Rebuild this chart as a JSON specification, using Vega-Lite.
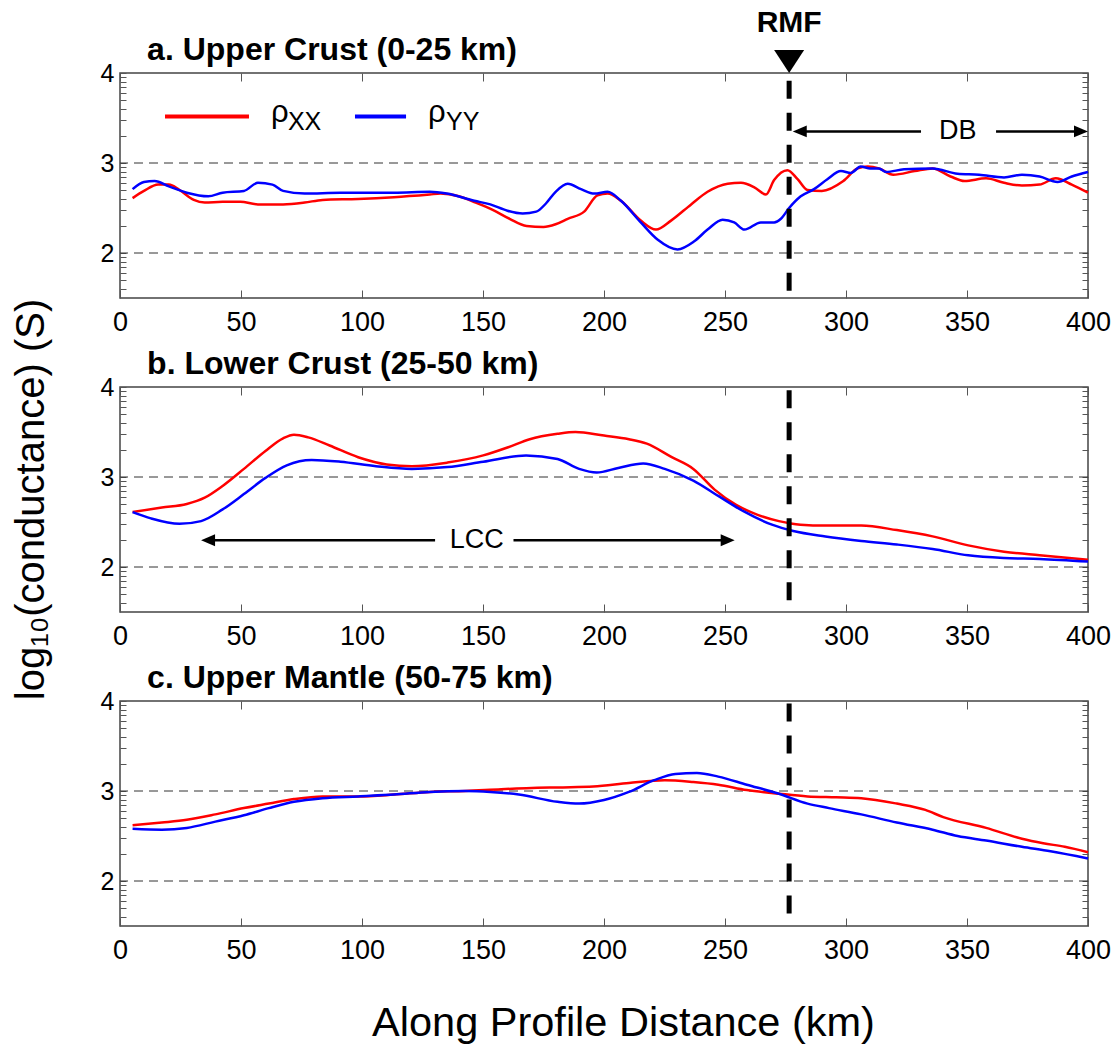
{
  "$schema": "https://vega.github.io/schema/vega-lite/v6.json",
  "padding": {"left": 10, "top": 6, "right": 5, "bottom": 2},
  "spacing": 89,
  "bounds": "flush",
  "config": {
    "font": "Liberation Sans",
    "view": {"stroke": "#444", "strokeWidth": 1.5},
    "axis": {"grid": false, "domain": false, "tickColor": "#555", "tickWidth": 1, "labelFont": "Liberation Sans", "labelColor": "black", "titleFont": "Liberation Sans", "titleColor": "black", "titleFontWeight": "normal", "labelOverlap": false, "labelBound": false, "labelFlush": false},
    "text": {"font": "Liberation Sans", "color": "black"}
  },
  "datasets": {
    "a": [
      {"d":5.2,"s":"ρXX","v":2.61},{"d":9.9,"s":"ρXX","v":2.69},{"d":15.8,"s":"ρXX","v":2.76},{"d":20.2,"s":"ρXX","v":2.76},{"d":24.6,"s":"ρXX","v":2.70},{"d":30.5,"s":"ρXX","v":2.59},{"d":35,"s":"ρXX","v":2.56},{"d":42.4,"s":"ρXX","v":2.57},{"d":49.7,"s":"ρXX","v":2.57},{"d":57,"s":"ρXX","v":2.54},{"d":67.4,"s":"ρXX","v":2.54},{"d":76.3,"s":"ρXX","v":2.56},{"d":83.7,"s":"ρXX","v":2.59},{"d":98.4,"s":"ρXX","v":2.60},{"d":113.2,"s":"ρXX","v":2.62},{"d":128,"s":"ρXX","v":2.65},{"d":132.4,"s":"ρXX","v":2.66},{"d":140,"s":"ρXX","v":2.63},{"d":147,"s":"ρXX","v":2.56},{"d":154,"s":"ρXX","v":2.48},{"d":161,"s":"ρXX","v":2.38},{"d":168,"s":"ρXX","v":2.30},{"d":175,"s":"ρXX","v":2.29},{"d":180,"s":"ρXX","v":2.32},{"d":185,"s":"ρXX","v":2.38},{"d":191.8,"s":"ρXX","v":2.46},{"d":197.3,"s":"ρXX","v":2.64},{"d":201.5,"s":"ρXX","v":2.66},{"d":207,"s":"ρXX","v":2.58},{"d":215.2,"s":"ρXX","v":2.36},{"d":221.5,"s":"ρXX","v":2.26},{"d":227.7,"s":"ρXX","v":2.36},{"d":236,"s":"ρXX","v":2.54},{"d":242.8,"s":"ρXX","v":2.68},{"d":251.1,"s":"ρXX","v":2.77},{"d":256.6,"s":"ρXX","v":2.78},{"d":262.1,"s":"ρXX","v":2.73},{"d":266.9,"s":"ρXX","v":2.65},{"d":270.3,"s":"ρXX","v":2.81},{"d":275.8,"s":"ρXX","v":2.92},{"d":280,"s":"ρXX","v":2.82},{"d":284.1,"s":"ρXX","v":2.70},{"d":290,"s":"ρXX","v":2.69},{"d":298.9,"s":"ρXX","v":2.80},{"d":304.8,"s":"ρXX","v":2.94},{"d":309,"s":"ρXX","v":2.96},{"d":313.6,"s":"ρXX","v":2.94},{"d":319.5,"s":"ρXX","v":2.87},{"d":328.4,"s":"ρXX","v":2.91},{"d":335.8,"s":"ρXX","v":2.94},{"d":343.2,"s":"ρXX","v":2.85},{"d":349,"s":"ρXX","v":2.80},{"d":357.9,"s":"ρXX","v":2.83},{"d":365.3,"s":"ρXX","v":2.78},{"d":372.7,"s":"ρXX","v":2.75},{"d":380,"s":"ρXX","v":2.76},{"d":386.7,"s":"ρXX","v":2.83},{"d":393.3,"s":"ρXX","v":2.76},{"d":400,"s":"ρXX","v":2.67},
      {"d":5.2,"s":"ρYY","v":2.71},{"d":9.9,"s":"ρYY","v":2.79},{"d":14.3,"s":"ρYY","v":2.80},{"d":20.2,"s":"ρYY","v":2.74},{"d":27.6,"s":"ρYY","v":2.67},{"d":36.5,"s":"ρYY","v":2.63},{"d":42.4,"s":"ρYY","v":2.67},{"d":51.2,"s":"ρYY","v":2.69},{"d":57,"s":"ρYY","v":2.78},{"d":63,"s":"ρYY","v":2.76},{"d":67.4,"s":"ρYY","v":2.69},{"d":76.3,"s":"ρYY","v":2.66},{"d":91.1,"s":"ρYY","v":2.67},{"d":113.2,"s":"ρYY","v":2.67},{"d":128,"s":"ρYY","v":2.68},{"d":135,"s":"ρYY","v":2.66},{"d":146.4,"s":"ρYY","v":2.58},{"d":153,"s":"ρYY","v":2.54},{"d":160.1,"s":"ρYY","v":2.47},{"d":166.4,"s":"ρYY","v":2.44},{"d":172,"s":"ρYY","v":2.46},{"d":176,"s":"ρYY","v":2.55},{"d":180,"s":"ρYY","v":2.68},{"d":185,"s":"ρYY","v":2.77},{"d":190.5,"s":"ρYY","v":2.71},{"d":196,"s":"ρYY","v":2.66},{"d":201.5,"s":"ρYY","v":2.68},{"d":207,"s":"ρYY","v":2.58},{"d":215.2,"s":"ρYY","v":2.34},{"d":222.1,"s":"ρYY","v":2.15},{"d":230.4,"s":"ρYY","v":2.04},{"d":237.3,"s":"ρYY","v":2.13},{"d":242.8,"s":"ρYY","v":2.26},{"d":249,"s":"ρYY","v":2.37},{"d":253.8,"s":"ρYY","v":2.34},{"d":258,"s":"ρYY","v":2.26},{"d":264.8,"s":"ρYY","v":2.34},{"d":270.3,"s":"ρYY","v":2.34},{"d":273.1,"s":"ρYY","v":2.38},{"d":276.5,"s":"ρYY","v":2.50},{"d":281.3,"s":"ρYY","v":2.63},{"d":286.8,"s":"ρYY","v":2.71},{"d":292.3,"s":"ρYY","v":2.82},{"d":297.9,"s":"ρYY","v":2.91},{"d":302,"s":"ρYY","v":2.89},{"d":306.1,"s":"ρYY","v":2.96},{"d":310,"s":"ρYY","v":2.94},{"d":313.6,"s":"ρYY","v":2.94},{"d":316.6,"s":"ρYY","v":2.90},{"d":324,"s":"ρYY","v":2.93},{"d":335.8,"s":"ρYY","v":2.94},{"d":346.1,"s":"ρYY","v":2.88},{"d":355,"s":"ρYY","v":2.87},{"d":365.3,"s":"ρYY","v":2.84},{"d":372.7,"s":"ρYY","v":2.87},{"d":380,"s":"ρYY","v":2.85},{"d":387.4,"s":"ρYY","v":2.79},{"d":393.3,"s":"ρYY","v":2.85},{"d":400,"s":"ρYY","v":2.90}
    ],
    "b": [
      {"d":5.2,"s":"ρXX","v":2.61},{"d":17.3,"s":"ρXX","v":2.66},{"d":27.6,"s":"ρXX","v":2.70},{"d":35,"s":"ρXX","v":2.77},{"d":42.4,"s":"ρXX","v":2.90},{"d":51.2,"s":"ρXX","v":3.09},{"d":60.1,"s":"ρXX","v":3.29},{"d":67.4,"s":"ρXX","v":3.43},{"d":71.9,"s":"ρXX","v":3.47},{"d":77.8,"s":"ρXX","v":3.44},{"d":86.6,"s":"ρXX","v":3.35},{"d":98.4,"s":"ρXX","v":3.22},{"d":110.2,"s":"ρXX","v":3.14},{"d":120.6,"s":"ρXX","v":3.12},{"d":135.3,"s":"ρXX","v":3.16},{"d":150.1,"s":"ρXX","v":3.24},{"d":160.4,"s":"ρXX","v":3.33},{"d":169.3,"s":"ρXX","v":3.42},{"d":180.8,"s":"ρXX","v":3.48},{"d":188.2,"s":"ρXX","v":3.50},{"d":200,"s":"ρXX","v":3.46},{"d":210.3,"s":"ρXX","v":3.42},{"d":217.7,"s":"ρXX","v":3.37},{"d":228,"s":"ρXX","v":3.22},{"d":236.9,"s":"ρXX","v":3.09},{"d":245.7,"s":"ρXX","v":2.86},{"d":254.6,"s":"ρXX","v":2.69},{"d":263.5,"s":"ρXX","v":2.58},{"d":272.3,"s":"ρXX","v":2.51},{"d":281.2,"s":"ρXX","v":2.47},{"d":291.5,"s":"ρXX","v":2.46},{"d":306.3,"s":"ρXX","v":2.46},{"d":321,"s":"ρXX","v":2.41},{"d":335.8,"s":"ρXX","v":2.34},{"d":350.5,"s":"ρXX","v":2.24},{"d":365.3,"s":"ρXX","v":2.17},{"d":380,"s":"ρXX","v":2.13},{"d":400,"s":"ρXX","v":2.08},
      {"d":5.2,"s":"ρYY","v":2.61},{"d":12.8,"s":"ρYY","v":2.54},{"d":24.6,"s":"ρYY","v":2.48},{"d":33.5,"s":"ρYY","v":2.51},{"d":42.4,"s":"ρYY","v":2.64},{"d":51.2,"s":"ρYY","v":2.81},{"d":60.1,"s":"ρYY","v":2.99},{"d":68.9,"s":"ρYY","v":3.13},{"d":79.2,"s":"ρYY","v":3.19},{"d":91.1,"s":"ρYY","v":3.17},{"d":105.8,"s":"ρYY","v":3.12},{"d":120.6,"s":"ρYY","v":3.09},{"d":135.3,"s":"ρYY","v":3.11},{"d":150.1,"s":"ρYY","v":3.17},{"d":167.8,"s":"ρYY","v":3.24},{"d":180.8,"s":"ρYY","v":3.20},{"d":189.7,"s":"ρYY","v":3.09},{"d":197,"s":"ρYY","v":3.05},{"d":205.9,"s":"ρYY","v":3.10},{"d":216.2,"s":"ρYY","v":3.15},{"d":225.1,"s":"ρYY","v":3.09},{"d":236.9,"s":"ρYY","v":2.96},{"d":247.2,"s":"ρYY","v":2.79},{"d":257.6,"s":"ρYY","v":2.62},{"d":269.4,"s":"ρYY","v":2.47},{"d":278.2,"s":"ρYY","v":2.40},{"d":291.5,"s":"ρYY","v":2.34},{"d":306.3,"s":"ρYY","v":2.29},{"d":321,"s":"ρYY","v":2.25},{"d":335.8,"s":"ρYY","v":2.20},{"d":350.5,"s":"ρYY","v":2.13},{"d":365.3,"s":"ρYY","v":2.10},{"d":380,"s":"ρYY","v":2.09},{"d":400,"s":"ρYY","v":2.06}
    ],
    "c": [
      {"d":5.2,"s":"ρXX","v":2.62},{"d":17.3,"s":"ρXX","v":2.65},{"d":27.6,"s":"ρXX","v":2.68},{"d":39.4,"s":"ρXX","v":2.74},{"d":51.2,"s":"ρXX","v":2.81},{"d":61.5,"s":"ρXX","v":2.86},{"d":71.9,"s":"ρXX","v":2.91},{"d":83.7,"s":"ρXX","v":2.94},{"d":98.4,"s":"ρXX","v":2.94},{"d":113.2,"s":"ρXX","v":2.96},{"d":128,"s":"ρXX","v":2.99},{"d":142.7,"s":"ρXX","v":3.00},{"d":157.5,"s":"ρXX","v":3.02},{"d":180.8,"s":"ρXX","v":3.04},{"d":195.6,"s":"ρXX","v":3.05},{"d":210.3,"s":"ρXX","v":3.09},{"d":225.1,"s":"ρXX","v":3.12},{"d":236.9,"s":"ρXX","v":3.10},{"d":247.2,"s":"ρXX","v":3.07},{"d":259,"s":"ρXX","v":3.01},{"d":272.3,"s":"ρXX","v":2.97},{"d":284.1,"s":"ρXX","v":2.94},{"d":295.9,"s":"ρXX","v":2.93},{"d":306.3,"s":"ρXX","v":2.92},{"d":321,"s":"ρXX","v":2.86},{"d":332.8,"s":"ρXX","v":2.79},{"d":340.2,"s":"ρXX","v":2.71},{"d":357.9,"s":"ρXX","v":2.59},{"d":372.7,"s":"ρXX","v":2.47},{"d":381.5,"s":"ρXX","v":2.42},{"d":390.4,"s":"ρXX","v":2.38},{"d":400,"s":"ρXX","v":2.32},
      {"d":5.2,"s":"ρYY","v":2.58},{"d":17.3,"s":"ρYY","v":2.57},{"d":27.6,"s":"ρYY","v":2.59},{"d":39.4,"s":"ρYY","v":2.66},{"d":51.2,"s":"ρYY","v":2.73},{"d":61.5,"s":"ρYY","v":2.81},{"d":71.9,"s":"ρYY","v":2.88},{"d":83.7,"s":"ρYY","v":2.92},{"d":98.4,"s":"ρYY","v":2.94},{"d":113.2,"s":"ρYY","v":2.96},{"d":128,"s":"ρYY","v":2.99},{"d":142.7,"s":"ρYY","v":3.00},{"d":153,"s":"ρYY","v":2.99},{"d":164.8,"s":"ρYY","v":2.96},{"d":180.8,"s":"ρYY","v":2.88},{"d":189.7,"s":"ρYY","v":2.86},{"d":200,"s":"ρYY","v":2.90},{"d":210.3,"s":"ρYY","v":2.99},{"d":220.7,"s":"ρYY","v":3.12},{"d":229.5,"s":"ρYY","v":3.19},{"d":238.4,"s":"ρYY","v":3.20},{"d":247.2,"s":"ρYY","v":3.16},{"d":259,"s":"ρYY","v":3.07},{"d":272.3,"s":"ρYY","v":2.97},{"d":284.1,"s":"ρYY","v":2.86},{"d":293,"s":"ρYY","v":2.81},{"d":306.3,"s":"ρYY","v":2.74},{"d":321,"s":"ρYY","v":2.65},{"d":335.8,"s":"ρYY","v":2.57},{"d":346.1,"s":"ρYY","v":2.50},{"d":357.9,"s":"ρYY","v":2.45},{"d":372.7,"s":"ρYY","v":2.38},{"d":384.5,"s":"ρYY","v":2.33},{"d":400,"s":"ρYY","v":2.25}
    ]
  },
  "vconcat": [
    {
      "width": 968, "height": 225,
      "resolve": {"axis": {"x": "independent", "y": "independent"}},
      "layer": [
        {"data": {"values": [{"g": 2}, {"g": 3}]}, "mark": {"type": "rule", "strokeDash": [9, 6], "color": "#333", "strokeWidth": 1},
         "encoding": {"y": {"field": "g", "type": "quantitative", "scale": {"domain": [1.5, 4], "nice": false, "zero": false},
           "axis": {"orient": "right", "values": [1.602,1.699,1.778,1.845,1.903,1.954,2,2.301,2.477,2.602,2.699,2.778,2.845,2.903,2.954,3,3.301,3.477,3.602,3.699,3.778,3.845,3.903,3.954,4], "labels": false, "tickSize": -6, "title": null}}}},
        {"data": {"name": "a"}, "mark": {"type": "line", "interpolate": "monotone", "strokeWidth": 2.5},
         "encoding": {
           "x": {"field": "d", "type": "quantitative", "scale": {"domain": [0, 400], "nice": false, "zero": false},
             "axis": {"orient": "bottom", "values": [0,50,100,150,200,250,300,350,400], "format": "d", "tickSize": -8, "labelPadding": 19, "labelFontSize": 27, "title": null}},
           "y": {"field": "v", "type": "quantitative", "scale": {"domain": [1.5, 4], "nice": false, "zero": false},
             "axis": {"orient": "left", "values": [1.602,1.699,1.778,1.845,1.903,1.954,2,2.301,2.477,2.602,2.699,2.778,2.845,2.903,2.954,3,3.301,3.477,3.602,3.699,3.778,3.845,3.903,3.954,4], "tickSize": -6, "labelPadding": 12, "labelFontSize": 25, "labelExpr": "datum.value == 2 ? '2' : datum.value == 3 ? '3' : datum.value == 4 ? '4' : ''", "title": null}},
           "color": {"field": "s", "type": "nominal", "scale": {"domain": ["ρXX", "ρYY"], "range": ["#ff0000", "#0000ff"]}, "legend": null}}},
        {"data": {"values": [{"x": 276.5, "y": 3.914, "y2": 1.559}]}, "mark": {"type": "rule", "strokeWidth": 5, "strokeDash": [18, 14], "color": "black"},
         "encoding": {
           "x": {"field": "x", "type": "quantitative", "scale": {"domain": [0, 400], "nice": false, "zero": false},
             "axis": {"orient": "top", "values": [0,50,100,150,200,250,300,350,400], "labels": false, "tickSize": -8, "title": null}},
           "y": {"field": "y", "type": "quantitative", "scale": {"domain": [1.5, 4], "nice": false, "zero": false}, "axis": null},
           "y2": {"field": "y2"}}},
        {"data": {"values": [{"x": 11.2, "y": 4.144, "t": "a. Upper Crust (0-25 km)"}]}, "mark": {"type": "text", "fontSize": 32, "fontWeight": "bold", "align": "left", "baseline": "alphabetic"},
         "encoding": {
           "x": {"field": "x", "type": "quantitative", "scale": {"domain": [0, 400], "nice": false, "zero": false}, "axis": null},
           "y": {"field": "y", "type": "quantitative", "scale": {"domain": [1.5, 4], "nice": false, "zero": false}, "axis": null},
           "text": {"field": "t"}}},
        {"data": {"values": [{"x": 18.6, "x2": 53.3, "y": 3.518, "s": "ρXX"}, {"x": 97.1, "x2": 118.2, "y": 3.518, "s": "ρYY"}]}, "mark": {"type": "rule", "strokeWidth": 4},
         "encoding": {
           "x": {"field": "x", "type": "quantitative", "scale": {"domain": [0, 400], "nice": false, "zero": false}, "axis": null},
           "x2": {"field": "x2"},
           "y": {"field": "y", "type": "quantitative", "scale": {"domain": [1.5, 4], "nice": false, "zero": false}, "axis": null},
           "color": {"field": "s", "type": "nominal", "scale": {"domain": ["ρXX", "ρYY"], "range": ["#ff0000", "#0000ff"]}, "legend": null}}},
        {"data": {"values": [{"x": 62.4, "y": 3.456, "t": "ρ"}, {"x": 127.3, "y": 3.456, "t": "ρ"}]}, "mark": {"type": "text", "fontSize": 31, "align": "left", "baseline": "alphabetic"},
         "encoding": {
           "x": {"field": "x", "type": "quantitative", "scale": {"domain": [0, 400], "nice": false, "zero": false}, "axis": null},
           "y": {"field": "y", "type": "quantitative", "scale": {"domain": [1.5, 4], "nice": false, "zero": false}, "axis": null},
           "text": {"field": "t"}}},
        {"data": {"values": [{"x": 69.4, "y": 3.37, "t": "XX"}, {"x": 134.7, "y": 3.37, "t": "YY"}]}, "mark": {"type": "text", "fontSize": 25, "align": "left", "baseline": "alphabetic"},
         "encoding": {
           "x": {"field": "x", "type": "quantitative", "scale": {"domain": [0, 400], "nice": false, "zero": false}, "axis": null},
           "y": {"field": "y", "type": "quantitative", "scale": {"domain": [1.5, 4], "nice": false, "zero": false}, "axis": null},
           "text": {"field": "t"}}},
        {"data": {"values": [{"x": 280, "x2": 331, "y": 3.351}, {"x": 362, "x2": 397, "y": 3.351}]}, "mark": {"type": "rule", "strokeWidth": 2.5, "color": "black"},
         "encoding": {
           "x": {"field": "x", "type": "quantitative", "scale": {"domain": [0, 400], "nice": false, "zero": false}, "axis": null},
           "x2": {"field": "x2"},
           "y": {"field": "y", "type": "quantitative", "scale": {"domain": [1.5, 4], "nice": false, "zero": false}, "axis": null}}},
        {"data": {"values": [{"x": 280.9, "y": 3.351, "dir": "L"}, {"x": 397.1, "y": 3.351, "dir": "R"}]}, "mark": {"type": "point", "filled": true, "size": 196, "color": "black", "opacity": 1},
         "encoding": {
           "x": {"field": "x", "type": "quantitative", "scale": {"domain": [0, 400], "nice": false, "zero": false}, "axis": null},
           "y": {"field": "y", "type": "quantitative", "scale": {"domain": [1.5, 4], "nice": false, "zero": false}, "axis": null},
           "shape": {"field": "dir", "type": "nominal", "scale": {"domain": ["L", "R"], "range": ["M-1,0L1,-0.85L1,0.85Z", "M1,0L-1,-0.85L-1,0.85Z"]}, "legend": null}}},
        {"data": {"values": [{"x": 346.2, "y": 3.351, "t": "DB"}]}, "mark": {"type": "text", "fontSize": 27, "align": "center", "baseline": "middle"},
         "encoding": {
           "x": {"field": "x", "type": "quantitative", "scale": {"domain": [0, 400], "nice": false, "zero": false}, "axis": null},
           "y": {"field": "y", "type": "quantitative", "scale": {"domain": [1.5, 4], "nice": false, "zero": false}, "axis": null},
           "text": {"field": "t"}}},
        {"data": {"values": [{"x": 276.5, "y": 4.128}]}, "mark": {"type": "point", "filled": true, "size": 900, "color": "black", "opacity": 1, "shape": "M-1,-0.77L1,-0.77L0,0.77Z"},
         "encoding": {
           "x": {"field": "x", "type": "quantitative", "scale": {"domain": [0, 400], "nice": false, "zero": false}, "axis": null},
           "y": {"field": "y", "type": "quantitative", "scale": {"domain": [1.5, 4], "nice": false, "zero": false}, "axis": null}}},
        {"data": {"values": [{"x": 276.5, "y": 4.56, "t": "RMF"}]}, "mark": {"type": "text", "fontSize": 30, "fontWeight": "bold", "align": "center", "baseline": "middle"},
         "encoding": {
           "x": {"field": "x", "type": "quantitative", "scale": {"domain": [0, 400], "nice": false, "zero": false}, "axis": null},
           "y": {"field": "y", "type": "quantitative", "scale": {"domain": [1.5, 4], "nice": false, "zero": false}, "axis": null},
           "text": {"field": "t"}}}
      ]
    },
    {
      "width": 968, "height": 225,
      "resolve": {"axis": {"x": "independent", "y": "independent"}},
      "layer": [
        {"data": {"values": [{"g": 2}, {"g": 3}]}, "mark": {"type": "rule", "strokeDash": [9, 6], "color": "#333", "strokeWidth": 1},
         "encoding": {"y": {"field": "g", "type": "quantitative", "scale": {"domain": [1.5, 4], "nice": false, "zero": false},
           "axis": {"orient": "right", "values": [1.602,1.699,1.778,1.845,1.903,1.954,2,2.301,2.477,2.602,2.699,2.778,2.845,2.903,2.954,3,3.301,3.477,3.602,3.699,3.778,3.845,3.903,3.954,4], "labels": false, "tickSize": -6, "title": null}}}},
        {"data": {"name": "b"}, "mark": {"type": "line", "interpolate": "monotone", "strokeWidth": 2.5},
         "encoding": {
           "x": {"field": "d", "type": "quantitative", "scale": {"domain": [0, 400], "nice": false, "zero": false},
             "axis": {"orient": "bottom", "values": [0,50,100,150,200,250,300,350,400], "format": "d", "tickSize": -8, "labelPadding": 19, "labelFontSize": 27, "title": null}},
           "y": {"field": "v", "type": "quantitative", "scale": {"domain": [1.5, 4], "nice": false, "zero": false},
             "axis": {"orient": "left", "values": [1.602,1.699,1.778,1.845,1.903,1.954,2,2.301,2.477,2.602,2.699,2.778,2.845,2.903,2.954,3,3.301,3.477,3.602,3.699,3.778,3.845,3.903,3.954,4], "tickSize": -6, "labelPadding": 12, "labelFontSize": 25, "labelExpr": "datum.value == 2 ? '2' : datum.value == 3 ? '3' : datum.value == 4 ? '4' : ''",
               "title": "log₁₀(conductance) (S)", "titleFontSize": 40, "titleX": -77, "titleY": 112, "titleBaseline": "alphabetic", "titleAngle": 270}},
           "color": {"field": "s", "type": "nominal", "scale": {"domain": ["ρXX", "ρYY"], "range": ["#ff0000", "#0000ff"]}, "legend": null}}},
        {"data": {"values": [{"x": 276.5, "y": 3.963, "y2": 1.608}]}, "mark": {"type": "rule", "strokeWidth": 5, "strokeDash": [18, 14], "color": "black"},
         "encoding": {
           "x": {"field": "x", "type": "quantitative", "scale": {"domain": [0, 400], "nice": false, "zero": false},
             "axis": {"orient": "top", "values": [0,50,100,150,200,250,300,350,400], "labels": false, "tickSize": -8, "title": null}},
           "y": {"field": "y", "type": "quantitative", "scale": {"domain": [1.5, 4], "nice": false, "zero": false}, "axis": null},
           "y2": {"field": "y2"}}},
        {"data": {"values": [{"x": 11.2, "y": 4.144, "t": "b. Lower Crust (25-50 km)"}]}, "mark": {"type": "text", "fontSize": 32, "fontWeight": "bold", "align": "left", "baseline": "alphabetic"},
         "encoding": {
           "x": {"field": "x", "type": "quantitative", "scale": {"domain": [0, 400], "nice": false, "zero": false}, "axis": null},
           "y": {"field": "y", "type": "quantitative", "scale": {"domain": [1.5, 4], "nice": false, "zero": false}, "axis": null},
           "text": {"field": "t"}}},
        {"data": {"values": [{"x": 36, "x2": 130.2, "y": 2.297}, {"x": 162.6, "x2": 251, "y": 2.297}]}, "mark": {"type": "rule", "strokeWidth": 2.5, "color": "black"},
         "encoding": {
           "x": {"field": "x", "type": "quantitative", "scale": {"domain": [0, 400], "nice": false, "zero": false}, "axis": null},
           "x2": {"field": "x2"},
           "y": {"field": "y", "type": "quantitative", "scale": {"domain": [1.5, 4], "nice": false, "zero": false}, "axis": null}}},
        {"data": {"values": [{"x": 36.4, "y": 2.297, "dir": "L"}, {"x": 251.1, "y": 2.297, "dir": "R"}]}, "mark": {"type": "point", "filled": true, "size": 196, "color": "black", "opacity": 1},
         "encoding": {
           "x": {"field": "x", "type": "quantitative", "scale": {"domain": [0, 400], "nice": false, "zero": false}, "axis": null},
           "y": {"field": "y", "type": "quantitative", "scale": {"domain": [1.5, 4], "nice": false, "zero": false}, "axis": null},
           "shape": {"field": "dir", "type": "nominal", "scale": {"domain": ["L", "R"], "range": ["M-1,0L1,-0.85L1,0.85Z", "M1,0L-1,-0.85L-1,0.85Z"]}, "legend": null}}},
        {"data": {"values": [{"x": 147.4, "y": 2.297, "t": "LCC"}]}, "mark": {"type": "text", "fontSize": 27, "align": "center", "baseline": "middle"},
         "encoding": {
           "x": {"field": "x", "type": "quantitative", "scale": {"domain": [0, 400], "nice": false, "zero": false}, "axis": null},
           "y": {"field": "y", "type": "quantitative", "scale": {"domain": [1.5, 4], "nice": false, "zero": false}, "axis": null},
           "text": {"field": "t"}}}
      ]
    },
    {
      "width": 968, "height": 225,
      "resolve": {"axis": {"x": "independent", "y": "independent"}},
      "layer": [
        {"data": {"values": [{"g": 2}, {"g": 3}]}, "mark": {"type": "rule", "strokeDash": [9, 6], "color": "#333", "strokeWidth": 1},
         "encoding": {"y": {"field": "g", "type": "quantitative", "scale": {"domain": [1.5, 4], "nice": false, "zero": false},
           "axis": {"orient": "right", "values": [1.602,1.699,1.778,1.845,1.903,1.954,2,2.301,2.477,2.602,2.699,2.778,2.845,2.903,2.954,3,3.301,3.477,3.602,3.699,3.778,3.845,3.903,3.954,4], "labels": false, "tickSize": -6, "title": null}}}},
        {"data": {"name": "c"}, "mark": {"type": "line", "interpolate": "monotone", "strokeWidth": 2.5},
         "encoding": {
           "x": {"field": "d", "type": "quantitative", "scale": {"domain": [0, 400], "nice": false, "zero": false},
             "axis": {"orient": "bottom", "values": [0,50,100,150,200,250,300,350,400], "format": "d", "tickSize": -8, "labelPadding": 19, "labelFontSize": 27,
               "title": "Along Profile Distance (km)", "titleFontSize": 41.5, "titleX": 503, "titleY": 109, "titleBaseline": "alphabetic"}},
           "y": {"field": "v", "type": "quantitative", "scale": {"domain": [1.5, 4], "nice": false, "zero": false},
             "axis": {"orient": "left", "values": [1.602,1.699,1.778,1.845,1.903,1.954,2,2.301,2.477,2.602,2.699,2.778,2.845,2.903,2.954,3,3.301,3.477,3.602,3.699,3.778,3.845,3.903,3.954,4], "tickSize": -6, "labelPadding": 12, "labelFontSize": 25, "labelExpr": "datum.value == 2 ? '2' : datum.value == 3 ? '3' : datum.value == 4 ? '4' : ''", "title": null}},
           "color": {"field": "s", "type": "nominal", "scale": {"domain": ["ρXX", "ρYY"], "range": ["#ff0000", "#0000ff"]}, "legend": null}}},
        {"data": {"values": [{"x": 276.5, "y": 3.971, "y2": 1.619}]}, "mark": {"type": "rule", "strokeWidth": 5, "strokeDash": [18, 14], "color": "black"},
         "encoding": {
           "x": {"field": "x", "type": "quantitative", "scale": {"domain": [0, 400], "nice": false, "zero": false},
             "axis": {"orient": "top", "values": [0,50,100,150,200,250,300,350,400], "labels": false, "tickSize": -8, "title": null}},
           "y": {"field": "y", "type": "quantitative", "scale": {"domain": [1.5, 4], "nice": false, "zero": false}, "axis": null},
           "y2": {"field": "y2"}}},
        {"data": {"values": [{"x": 11.2, "y": 4.144, "t": "c. Upper Mantle (50-75 km)"}]}, "mark": {"type": "text", "fontSize": 32, "fontWeight": "bold", "align": "left", "baseline": "alphabetic"},
         "encoding": {
           "x": {"field": "x", "type": "quantitative", "scale": {"domain": [0, 400], "nice": false, "zero": false}, "axis": null},
           "y": {"field": "y", "type": "quantitative", "scale": {"domain": [1.5, 4], "nice": false, "zero": false}, "axis": null},
           "text": {"field": "t"}}}
      ]
    }
  ]
}
